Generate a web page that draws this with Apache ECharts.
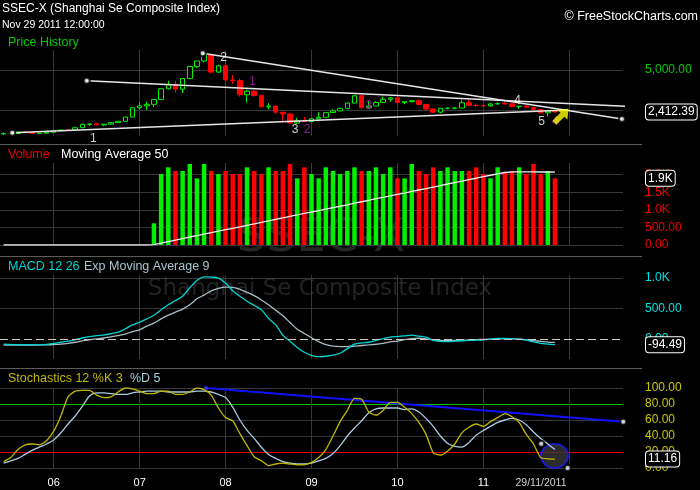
<!DOCTYPE html>
<html>
<head>
<meta charset="utf-8">
<script src="https://cdn.jsdelivr.net/npm/echarts@6.0.0/dist/echarts.min.js"></script>
<style>
html,body{margin:0;padding:0;background:#000;}
#chart{width:700px;height:490px;}
</style>
</head>
<body>
<div id="chart"></div>
<script>
// monthly bars, Jun 2005 .. Aug 2012 (the last months are empty room on the right)
var months = ['2005-06','2005-07','2005-08','2005-09','2005-10','2005-11','2005-12',
	'2006-01','2006-02','2006-03','2006-04','2006-05','2006-06','2006-07','2006-08','2006-09','2006-10','2006-11','2006-12',
	'2007-01','2007-02','2007-03','2007-04','2007-05','2007-06','2007-07','2007-08','2007-09','2007-10','2007-11','2007-12',
	'2008-01','2008-02','2008-03','2008-04','2008-05','2008-06','2008-07','2008-08','2008-09','2008-10','2008-11','2008-12',
	'2009-01','2009-02','2009-03','2009-04','2009-05','2009-06','2009-07','2009-08','2009-09','2009-10','2009-11','2009-12',
	'2010-01','2010-02','2010-03','2010-04','2010-05','2010-06','2010-07','2010-08','2010-09','2010-10','2010-11','2010-12',
	'2011-01','2011-02','2011-03','2011-04','2011-05','2011-06','2011-07','2011-08','2011-09','2011-10','2011-11','2011-12',
	'2012-01','2012-02','2012-03','2012-04','2012-05','2012-06','2012-07','2012-08'];

var priceOpen = [1060,1080,1083,1162,1155,1092,1099,
	1163,1258,1299,1298,1440,1641,1672,1612,1658,1752,1837,2099,
	2675,2786,2881,3183,3841,4109,3820,4471,5218,5552,5954,4871,
	5261,4383,4348,3472,3693,3433,2736,2775,2397,2293,1728,1871,
	1821,1991,2082,2373,2477,2632,2959,3412,2667,2779,2995,3195,
	3277,2989,3051,3109,2870,2592,2398,2638,2638,2655,2979,2820,
	2808,2790,2905,2928,2911,2743,2762,2701,2567,2359,2469];
var priceClose = [1080,1083,1162,1155,1092,1099,1161,
	1258,1299,1298,1440,1641,1672,1612,1658,1752,1837,2099,2675,
	2786,2881,3183,3841,4109,3820,4471,5218,5552,5954,4871,5261,
	4383,4348,3472,3693,3433,2736,2775,2397,2293,1728,1871,1821,
	1991,2082,2373,2477,2632,2959,3412,2667,2779,2995,3195,3277,
	2989,3051,3109,2870,2592,2398,2638,2638,2655,2979,2820,2808,
	2790,2905,2928,2911,2743,2762,2701,2567,2359,2469,2412.39];
var priceLow = [998,1004,1080,1131,1067,1074,1096,
	1159,1253,1257,1295,1435,1541,1610,1541,1640,1737,1831,2091,
	2555,2541,2724,3180,3791,3605,3563,4456,5111,5462,4778,4812,
	4330,4123,3357,2990,3333,2693,2566,2284,1802,1664,1678,1814,
	1814,1991,2037,2354,2461,2632,2950,2640,2639,2779,2979,3039,
	2986,2890,2986,2861,2481,2382,2319,2573,2573,2644,2773,2721,
	2661,2755,2861,2887,2703,2610,2686,2437,2307,2132,2390];
var priceHigh = [1146,1085,1185,1223,1160,1110,1163,
	1260,1303,1306,1445,1700,1685,1757,1660,1764,1846,2101,2698,
	2994,3049,3198,3851,4335,4312,4477,5219,5555,6124,5954,5303,
	5522,4695,4473,3786,3786,3459,2952,2780,2333,2293,2050,2100,
	2022,2402,2382,2579,2689,2988,3454,3478,3068,3082,3361,3330,
	3306,3088,3123,3181,2875,2639,2652,2691,2683,3159,3186,2938,
	2851,2974,3011,3067,2931,2766,2826,2733,2574,2536,2536];

var volume = [0,0,0,0,0,0,0, 0,0,0,0,0,0,0,0,0,0,0,0, 0,0,
	616,2017,2207,2102,2102,2301,1894,2301,2102,2017,
	2102,2017,2017,2207,2102,2017,2207,2102,2102,2301,1894,2207,
	2017,1894,2207,2102,2017,2102,2207,2102,2102,2207,2017,2207,
	1894,1894,2301,2102,2017,2207,2102,2207,2102,2102,2102,2207,
	2017,1894,2207,2070,2102,2207,2017,2301,2017,2102,1894];
var volumeMa = [0,0,0,0,0,0,0, 0,0,0,0,0,0,0,0,0,0,0,0, 0,0,
	12,53,97,139,181,227,265,311,353,393,
	435,475,515,559,601,641,685,727,769,815,853,897,
	937,975,1019,1061,1101,1143,1187,1229,1271,1315,1355,1399,
	1437,1475,1521,1563,1603,1647,1689,1733,1775,1817,1859,1897,
	1941,1982,2024,2060,2078,2075,2076,2078,2074,2080,2072];

var macdLine = [-88,-92,-95,-97,-98,-97,-90,
	-72,-55,-38,-12,15,38,55,
	65,85,110,165,230,275,330,
	390,480,560,630,700,840,960,
	1020,1015,1000,920,790,700,620,
	550,480,340,230,60,-40,-140,
	-220,-270,-290,-285,-268,-235,-160,
	-85,-65,-55,-25,5,30,39,
	50,61,45,28,-25,-40,-44,
	-38,-30,-25,-20,-17,-5,8,
	10,2,-5,-20,-50,-72,-85,-94.49];
var macdSignal = [-100,-100,-100,-100,-100,-99,-97,
	-92,-85,-72,-55,-33,-15,0,
	15,35,55,80,120,150,210,
	260,330,390,440,490,560,660,
	720,790,830,850,848,815,765,
	710,640,560,470,380,270,160,
	90,20,-44,-95,-120,-127,-127,
	-120,-108,-99,-88,-75,-50,-35,
	-12,5,11,0,-15,-25,-28,
	-25,-20,-17,-12,-8,-4,0,
	0,0,-5,-15,-28,-40,-52,-58];

var stochK = [8,13,23,29,30,29,34,
	46,65,89,96,97,97,91,
	88,89,95,100,99,96,93,
	93,96,96,92,92,95,100,
	98,91,75,63,59,43,28,
	14,9,3,5,6,5,4,
	4,7,13,23,40,58,72,
	87,86,70,66,72,82,82,
	76,68,57,42,19,16,21,
	30,44,51,55,52,58,63,
	68,64,57,42,30,13,11.5,11.16];
var stochD = [6,9,12,17,22,26,30,
	35,44,55,65,77,90,94,
	94,93,92,92,94,95,96,
	96,96,95,95,95,95,96,
	96,95,92,88,76,60,47,
	37,26,17,12,8,6,5,
	5,6,9,12,18,28,40,
	50,59,69,74,75,75,75,
	73,74,70,62,52,40,31,
	27,26,32,41,47,52,57,
	60,62,60,54,45,37,30,23];

// gridlines / labelled ticks on the right hand axes
var priceGridTicks = [2500, 5000];
var priceLabelTicks = [5000];
var volumeTicks = [0, 500, 1000, 1500, 2000];
var macdGridTicks = [500, 1000];
var macdLabelTicks = [0, 500, 1000];
// stochastics gridlines 0..100: oversold 20 red, overbought 80 green
var stochLineColors = ['#383838', '#e00000', '#383838', '#383838', '#00c000', '#383838'];

// drawn annotations, [month position, value]
var priceTrendLines = [
	[[27.81, 6027], [86.36, 1978]],
	[[11.61, 4338], [89.14, 2717]],
	[[1.21, 1133], [78.73, 2532]]
];
var priceHandles = [[27.81, 6027], [86.36, 1978], [11.61, 4338], [1.21, 1133]];
var waveLabels = [
	[12.54, 745, '1', '#ffffff'],
	[30.72, 5737, '2', '#ffffff'],
	[34.74, 4258, '1', '#b020b0'],
	[40.71, 1300, '3', '#ffffff'],
	[42.38, 1300, '2', '#b020b0'],
	[50.98, 2779, '3', '#b020b0'],
	[71.79, 3087, '4', '#ffffff'],
	[75.12, 1793, '5', '#ffffff'],
	[77.06, 1793, '4', '#b020b0']
];
var arrowPoint = [77.9, 2180];
var stochTrend = [[28.27, 100], [86.54, 57.8]];
var stochCircle = [76.93, 15.2];
var stochHandles = [[75.08, 30.4], [78.77, 0], [86.54, 57.8]];

var FONT = 'Liberation Sans';
var GREEN = '#00f000', RED = '#ff0000', GRIDC = '#383838';

var candles = priceOpen.map(function (o, i) {
	return [o, priceClose[i], priceLow[i], priceHigh[i]];
});
var last = priceClose.length - 1;

function fmtPrice(v) {
	var s = v.toFixed(2).split('.');
	return s[0].replace(/\B(?=(\d{3})+(?!\d))/g, ',') + '.' + s[1];
}
function fmtK(v) {
	if (Math.abs(v) >= 1000) return (v / 1000).toFixed(1) + 'K';
	return v.toFixed(2);
}

function catAxis(g, showLabel) {
	return {
		type: 'category', gridIndex: g, data: months, boundaryGap: true,
		axisLine: {show: false}, axisTick: {show: false},
		axisLabel: {
			show: showLabel, color: '#ffffff', fontSize: 11, fontFamily: FONT, margin: 9,
			interval: function (i, v) { return v.slice(5) === '01' && v.slice(0, 4) !== '2012'; },
			formatter: function (v) { return v.slice(2, 4); }
		},
		splitLine: {
			show: true, alignWithLabel: true,
			interval: function (i, v) { return v.slice(5) === '01'; },
			lineStyle: {color: GRIDC}
		}
	};
}

function tag(val, text) {
	return {
		yAxis: val,
		lineStyle: {width: 0, color: 'rgba(0,0,0,0)'},
		label: {
			show: true, position: 'end', distance: 23, formatter: text,
			color: '#ffffff', fontSize: 12, fontFamily: FONT,
			backgroundColor: '#000000', borderColor: '#ffffff', borderWidth: 1, borderRadius: 3,
			padding: [2, 2, 1, 2]
		}
	};
}

function hline(val, color, type) {
	return {yAxis: val, lineStyle: {color: color, width: 1.2, type: type || 'solid'}, label: {show: false}};
}

var chart = echarts.init(document.getElementById('chart'));

var series = [
	{
		type: 'candlestick', xAxisIndex: 0, yAxisIndex: 0, data: candles, barWidth: 5,
		itemStyle: {color: '#000000', color0: RED, borderColor: GREEN, borderColor0: RED, borderWidth: 1},
		markLine: {silent: true, symbol: 'none', animation: false, data: [tag(priceClose[last], fmtPrice(priceClose[last]))]}
	}
];
priceTrendLines.forEach(function (seg) {
	series.push({
		type: 'line', xAxisIndex: 4, yAxisIndex: 0, data: seg, symbol: 'none', clip: false, z: 4,
		lineStyle: {color: '#e6e6e6', width: 1.5}
	});
});
series.push({
	type: 'scatter', xAxisIndex: 4, yAxisIndex: 0, data: priceHandles, symbol: 'emptyCircle', symbolSize: 6,
	clip: false, z: 5, itemStyle: {color: '#000', borderColor: '#999999', borderWidth: 1}
});
series.push({
	type: 'scatter', xAxisIndex: 4, yAxisIndex: 0, symbolSize: 0, clip: false, z: 6,
	data: waveLabels.map(function (w) {
		return {value: [w[0], w[1]], name: w[2], label: {color: w[3]}};
	}),
	label: {show: true, position: 'inside', formatter: '{b}', fontSize: 12, fontFamily: FONT}
});
series.push({
	type: 'scatter', xAxisIndex: 4, yAxisIndex: 0, data: [arrowPoint], clip: false, z: 7,
	symbol: 'path://M5,0 L10,6 L7,6 L7,14 L3,14 L3,6 L0,6 Z', symbolSize: [14, 20], symbolRotate: -45,
	itemStyle: {color: '#ffff00'}
});

// volume
series.push({
	type: 'bar', xAxisIndex: 1, yAxisIndex: 1, data: volume, barWidth: 4.5,
	itemStyle: {color: function (p) { return priceClose[p.dataIndex] >= priceOpen[p.dataIndex] ? GREEN : RED; }},
	markLine: {silent: true, symbol: 'none', animation: false, data: [tag(volume[last], fmtK(volume[last]))]}
});
series.push({
	type: 'line', xAxisIndex: 1, yAxisIndex: 1, data: volumeMa, symbol: 'none', z: 4,
	lineStyle: {color: '#f0f0f0', width: 1.3}
});

// MACD
series.push({
	type: 'line', xAxisIndex: 2, yAxisIndex: 2, data: macdSignal, symbol: 'none', smooth: 0.3,
	lineStyle: {color: '#a8bcc4', width: 1.3},
	markLine: {silent: true, symbol: 'none', animation: false, data: [hline(0, '#c8c8c8', [8, 4])]}
});
series.push({
	type: 'line', xAxisIndex: 2, yAxisIndex: 2, data: macdLine, symbol: 'none', smooth: 0.3, z: 4,
	lineStyle: {color: '#00d4d4', width: 1.3},
	markLine: {silent: true, symbol: 'none', animation: false, data: [tag(macdLine[last], macdLine[last].toFixed(2))]}
});

// Stochastics
series.push({
	type: 'line', xAxisIndex: 5, yAxisIndex: 3, data: stochTrend, symbol: 'none', z: 2,
	lineStyle: {color: '#1010ff', width: 2}
});
series.push({
	type: 'scatter', xAxisIndex: 5, yAxisIndex: 3, data: [stochCircle], symbol: 'circle', symbolSize: [27, 24],
	clip: false, z: 3, itemStyle: {color: 'rgba(58,58,58,0.95)', borderColor: '#1a1aff', borderWidth: 2}
});
series.push({
	type: 'line', xAxisIndex: 3, yAxisIndex: 3, data: stochD, symbol: 'none', smooth: 0.3, z: 4,
	lineStyle: {color: '#a8cce0', width: 1.3}
});
series.push({
	type: 'line', xAxisIndex: 3, yAxisIndex: 3, data: stochK, symbol: 'none', smooth: 0.2, z: 5,
	lineStyle: {color: '#c0b800', width: 1.3},
	markLine: {silent: true, symbol: 'none', animation: false, data: [tag(stochK[last], stochK[last].toFixed(2))]}
});
series.push({
	type: 'scatter', xAxisIndex: 5, yAxisIndex: 3, data: stochHandles, symbol: 'emptyCircle', symbolSize: 6,
	clip: false, z: 6, itemStyle: {color: '#000', borderColor: '#999999', borderWidth: 1}
});
series.push({
	type: 'scatter', xAxisIndex: 5, yAxisIndex: 3, data: [stochTrend[0]], symbol: 'circle', symbolSize: 4,
	clip: false, z: 6, itemStyle: {color: '#4040ff'}
});

var axisLabelBase = {fontSize: 12, fontFamily: FONT, margin: 22};

var option = {
	backgroundColor: '#000000',
	animation: false,
	grid: [
		{left: -4, right: 77, top: 50, height: 86},
		{left: -4, right: 77, top: 163, height: 82},
		{left: -4, right: 77, top: 275, height: 84},
		{left: -4, right: 77, top: 388, height: 80}
	],
	xAxis: [
		catAxis(0, false), catAxis(1, false), catAxis(2, false), catAxis(3, true),
		{type: 'value', gridIndex: 0, min: -0.5, max: 86.5, show: false},
		{type: 'value', gridIndex: 3, min: -0.5, max: 86.5, show: false}
	],
	yAxis: [
		{
			type: 'value', gridIndex: 0, position: 'right', min: 930, max: 6230,
			axisLine: {show: false}, axisTick: {show: false, customValues: priceGridTicks},
			axisLabel: Object.assign({color: '#00c800', customValues: priceLabelTicks, formatter: fmtPrice}, axisLabelBase),
			splitLine: {show: true, lineStyle: {color: GRIDC, width: 1}}
		},
		{
			type: 'value', gridIndex: 1, position: 'right', min: 0, max: 2330,
			axisLine: {show: false}, axisTick: {show: false, customValues: volumeTicks},
			axisLabel: Object.assign({color: '#ee0000', customValues: volumeTicks, formatter: fmtK}, axisLabelBase),
			splitLine: {show: true, lineStyle: {color: GRIDC, width: 1}}
		},
		{
			type: 'value', gridIndex: 2, position: 'right', min: -330, max: 1050,
			axisLine: {show: false}, axisTick: {show: false, customValues: macdGridTicks},
			axisLabel: Object.assign({color: '#00e0e0', customValues: macdLabelTicks, formatter: fmtK}, axisLabelBase),
			splitLine: {show: true, lineStyle: {color: GRIDC, width: 1}}
		},
		{
			type: 'value', gridIndex: 3, position: 'right', min: 0, max: 100, interval: 20,
			axisLine: {show: false}, axisTick: {show: false},
			axisLabel: Object.assign({color: '#c8c800', formatter: function (v) { return v.toFixed(2); }}, axisLabelBase),
			splitLine: {show: true, lineStyle: {color: stochLineColors, width: 1}}
		}
	],
	graphic: [
		{type: 'text', x: 321, y: 239, z: -10, style: {text: 'SSEC-X', fill: '#262626', font: '47px "DejaVu Sans"', textAlign: 'center', textVerticalAlign: 'middle'}},
		{type: 'text', x: 320, y: 289, z: -10, style: {text: 'Shanghai Se Composite Index', fill: '#232323', font: '23px "DejaVu Sans"', textAlign: 'center', textVerticalAlign: 'middle'}},
		{type: 'text', x: 2, y: 9, style: {text: 'SSEC-X (Shanghai Se Composite Index)', fill: '#ffffff', font: '12px "Liberation Sans"', textVerticalAlign: 'middle'}},
		{type: 'text', x: 2, y: 25, style: {text: 'Nov 29 2011 12:00:00', fill: '#ffffff', font: '10.5px "Liberation Sans"', textVerticalAlign: 'middle'}},
		{type: 'text', x: 698, y: 17, style: {text: '\u00a9 FreeStockCharts.com', fill: '#ffffff', font: '12.5px "Liberation Sans"', textAlign: 'right', textVerticalAlign: 'middle'}},
		{type: 'text', x: 8, y: 43, style: {text: 'Price History', fill: '#00c800', font: '12.5px "Liberation Sans"', textVerticalAlign: 'middle'}},
		{type: 'text', x: 8, y: 155, style: {text: 'Volume', fill: '#ee0000', font: '12.5px "Liberation Sans"', textVerticalAlign: 'middle'}},
		{type: 'text', x: 61, y: 155, style: {text: 'Moving Average 50', fill: '#ffffff', font: '12.5px "Liberation Sans"', textVerticalAlign: 'middle'}},
		{type: 'text', x: 8, y: 267, style: {text: 'MACD 12 26', fill: '#00d4d4', font: '12.5px "Liberation Sans"', textVerticalAlign: 'middle'}},
		{type: 'text', x: 84, y: 267, style: {text: 'Exp Moving Average 9', fill: '#a8c4cc', font: '12.5px "Liberation Sans"', textVerticalAlign: 'middle'}},
		{type: 'text', x: 8, y: 379, style: {text: 'Stochastics 12 %K 3', fill: '#c0b800', font: '12.5px "Liberation Sans"', textVerticalAlign: 'middle'}},
		{type: 'text', x: 130, y: 379, style: {text: '%D 5', fill: '#a8cce0', font: '12.5px "Liberation Sans"', textVerticalAlign: 'middle'}},
		{type: 'text', x: 541, y: 483, style: {text: '29/11/2011', fill: '#d0d0d0', font: '10.5px "Liberation Sans"', textAlign: 'center', textVerticalAlign: 'middle'}},
		{type: 'line', shape: {x1: 0, y1: 144.5, x2: 642, y2: 144.5}, style: {stroke: '#5c5c5c', lineWidth: 1}},
		{type: 'line', shape: {x1: 0, y1: 256.5, x2: 642, y2: 256.5}, style: {stroke: '#5c5c5c', lineWidth: 1}},
		{type: 'line', shape: {x1: 0, y1: 368.5, x2: 642, y2: 368.5}, style: {stroke: '#5c5c5c', lineWidth: 1}}
	],
	series: series
};

chart.setOption(option);
</script>
</body>
</html>
